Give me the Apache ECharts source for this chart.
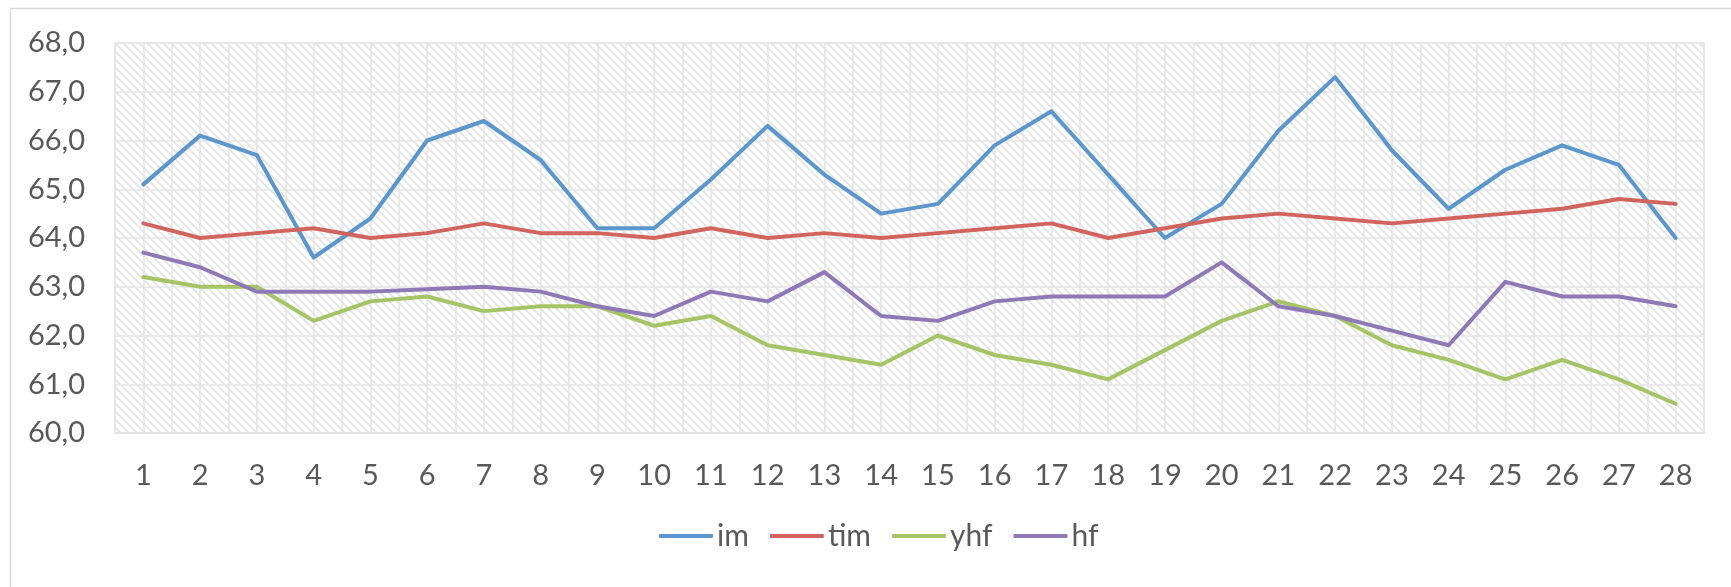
<!DOCTYPE html>
<html>
<head>
<meta charset="utf-8">
<script src="https://cdn.jsdelivr.net/npm/echarts@6/dist/echarts.min.js"></script>
<style>
  html, body { margin: 0; padding: 0; background: #fff; }
  #chart { width: 1731px; height: 587px; }
</style>
</head>
<body>
<div id="chart"></div>
<script>
// categories and series values
const days = ['1','2','3','4','5','6','7','8','9','10','11','12','13','14',
              '15','16','17','18','19','20','21','22','23','24','25','26','27','28'];
const im  = [65.1,66.1,65.7,63.6,64.4,66.0,66.4,65.6,64.2,64.2,65.2,66.3,65.3,64.5,
             64.7,65.9,66.6,65.3,64.0,64.7,66.2,67.3,65.8,64.6,65.4,65.9,65.5,64.0];
const tim = [64.3,64.0,64.1,64.2,64.0,64.1,64.3,64.1,64.1,64.0,64.2,64.0,64.1,64.0,
             64.1,64.2,64.3,64.0,64.2,64.4,64.5,64.4,64.3,64.4,64.5,64.6,64.8,64.7];
const yhf = [63.2,63.0,63.0,62.3,62.7,62.8,62.5,62.6,62.6,62.2,62.4,61.8,61.6,61.4,
             62.0,61.6,61.4,61.1,61.7,62.3,62.7,62.4,61.8,61.5,61.1,61.5,61.1,60.6];
const hf  = [63.7,63.4,62.9,62.9,62.9,62.95,63.0,62.9,62.6,62.4,62.9,62.7,63.3,62.4,
             62.3,62.7,62.8,62.8,62.8,63.5,62.6,62.4,62.1,61.8,63.1,62.8,62.8,62.6];
const yMin = 60, yMax = 68, yStep = 1;

const colors = ['#5B96CC', '#D2645E', '#A5C466', '#8E78B5'];
const txt = '#595959';
const font = 'Lato, "Open Sans", sans-serif';

// diagonal hatch for the plot background
function hatch() {
  const c = document.createElement('canvas');
  c.width = 8; c.height = 8;
  const g = c.getContext('2d');
  g.fillStyle = '#fff';
  g.fillRect(0, 0, 8, 8);
  g.strokeStyle = '#e4e4e4';
  g.lineWidth = 1.8;
  g.beginPath();
  g.moveTo(-2, -2); g.lineTo(10, 10);
  g.moveTo(-2, 6);  g.lineTo(2, 10);
  g.moveTo(6, -2);  g.lineTo(10, 2);
  g.stroke();
  return c;
}

const chart = echarts.init(document.getElementById('chart'));

function mkLine(name, data, color) {
  return {
    name: name,
    type: 'line',
    data: data,
    symbol: 'none',
    lineStyle: { color: color, width: 4, cap: 'round', join: 'round' },
    itemStyle: { color: color }
  };
}

chart.setOption({
  animation: false,
  textStyle: { fontFamily: font },
  graphic: [{
    type: 'rect',
    shape: { x: 10.5, y: 8.5, width: 1760, height: 620 },
    style: { fill: 'none', stroke: '#d9d9d9', lineWidth: 1.5 },
    silent: true
  }],
  grid: {
    left: 115, right: 27, top: 43, bottom: 154,
    show: true,
    backgroundColor: { image: hatch(), repeat: 'repeat' },
    borderColor: '#e3e3e3',
    borderWidth: 1.5
  },
  legend: {
    data: ['im', 'tim', 'yhf', 'hf'],
    bottom: 31,
    left: 654,
    icon: 'roundRect',
    itemWidth: 54,
    itemHeight: 4,
    itemGap: 21,
    textStyle: { color: txt, fontSize: 30, fontFamily: font, padding: [0, 0, 0, -1] }
  },
  xAxis: [{
    type: 'category',
    data: days,
    boundaryGap: true,
    axisLine: { lineStyle: { color: '#e3e3e3', width: 1.5 } },
    axisTick: { show: false },
    axisLabel: { color: txt, fontSize: 29, margin: 28, fontFamily: font },
    splitLine: { show: false }
  }, {
    // half-step vertical gridlines
    type: 'value',
    min: 0, max: days.length, interval: 0.5,
    position: 'top',
    axisLine: { show: false },
    axisTick: { show: false },
    axisLabel: { show: false },
    splitLine: { show: true, lineStyle: { color: '#e6e6e6', width: 1.5 } }
  }],
  yAxis: {
    type: 'value',
    min: yMin, max: yMax, interval: yStep,
    axisLine: { show: false },
    axisTick: { show: false },
    axisLabel: {
      color: txt, fontSize: 29, margin: 30, fontFamily: font,
      formatter: v => v.toFixed(1).replace('.', ',')
    },
    splitLine: { lineStyle: { color: '#e6e6e6', width: 1.5 } }
  },
  series: [
    mkLine('im', im, colors[0]),
    mkLine('tim', tim, colors[1]),
    mkLine('yhf', yhf, colors[2]),
    mkLine('hf', hf, colors[3])
  ]
});
</script>
</body>
</html>
